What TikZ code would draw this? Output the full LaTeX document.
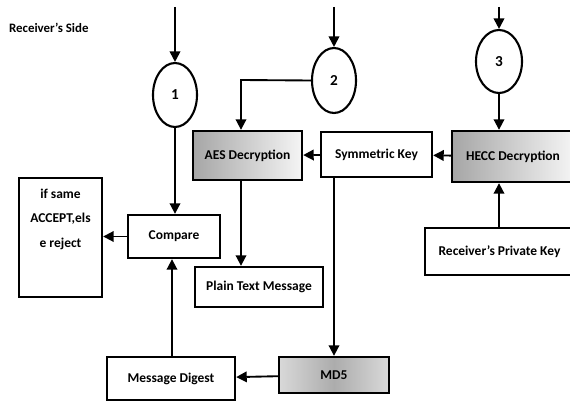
\documentclass[tikz,border=0pt]{standalone}
\usepackage{fontspec}
\setmainfont{Carlito}
\usetikzlibrary{shapes.geometric,arrows.meta}

\begin{document}
\begin{tikzpicture}[x=0.03cm,y=-0.03cm,
	caixa/.style = {draw,line width=2pt,fill=white,font=\bfseries\fontsize{11.5}{14}\selectfont,inner sep=2pt},
	sombra/.style = {caixa,left color=gray!70,right color=gray!8},
	circulo/.style = {draw,ellipse,line width=1.8pt,fill=white,font=\bfseries\fontsize{13}{14}\selectfont,inner sep=0pt},
	seta/.style = {line width=1.6pt,-{Triangle[length=9pt,width=9pt]}}]
	\useasboundingbox (0,0) rectangle (570,401);

	\node[font=\bfseries\fontsize{11}{13}\selectfont,anchor=west] (titulo) at (5,28) {Receiver’s Side};

	\node[circulo,minimum width=1.32cm,minimum height=1.92cm] (C1) at (175,95) {1};
	\node[circulo,minimum width=1.32cm,minimum height=1.95cm] (C2) at (334,80.5) {2};
	\node[circulo,minimum width=1.38cm,minimum height=1.89cm] (C3) at (499,61.5) {3};
	\coordinate (e1) at (175,7);
	\coordinate (e2) at (334,7);
	\coordinate (e3) at (499,7);
	\coordinate (dobra) at (241,80);

	\node[sombra,minimum width=3.27cm,minimum height=1.47cm] (AES) at (247.5,155.5) {AES Decryption};
	\node[caixa,minimum width=3.33cm,minimum height=1.35cm] (SK) at (376.5,154.5) {Symmetric Key};
	\node[sombra,minimum width=3.66cm,minimum height=1.53cm] (HECC) at (513,156.5) {HECC Decryption};
	\node[caixa,minimum width=4.47cm,minimum height=1.41cm] (RPK) at (499.5,251.5) {Receiver’s Private Key};
	\node[caixa,minimum width=2.76cm,minimum height=1.29cm] (CMP) at (174,236.5) {Compare};
	\node[caixa,minimum width=2.49cm,text depth=1.18cm,align=center,anchor=north,inner xsep=6pt,inner ysep=9pt,font=\bfseries\fontsize{11.5}{21}\selectfont] (IF) at (60.5,177) {if same\\ACCEPT,els\\e reject};
	\node[caixa,minimum width=3.84cm,minimum height=1.2cm] (PTM) at (259,287) {Plain Text Message};
	\node[caixa,minimum width=3.84cm,minimum height=1.29cm] (MDG) at (171,378.5) {Message Digest};
	\node[caixa,left color=gray!30,right color=gray!30,middle color=gray!65,minimum width=3.3cm,minimum height=1.08cm] (MD5) at (334,375) {MD5};

	\draw[seta] (e1) -- (C1);
	\draw[seta] (e2) -- (C2);
	\draw[seta] (e3) -- (C3);
	\draw[seta] (C2.west) -- (dobra) -- (AES.north -| dobra);
	\draw[seta] (C3) -- (HECC.north -| C3);
	\draw[seta] (HECC) -- (SK);
	\draw[seta] (SK) -- (AES);
	\draw[seta] (RPK.north -| C3) -- (HECC.south -| C3);
	\draw[seta] (C1) -- (CMP.north -| C1);
	\draw[seta] (CMP) -- (IF.east |- CMP);
	\draw[seta] (AES.south -| dobra) -- (PTM.north -| dobra);
	\draw[seta] (SK.south -| C2) -- (MD5.north -| C2);
	\draw[seta] (MD5) -- (MDG);
	\draw[seta] (MDG.north -| 172,0) -- (CMP.south -| 172,0);
\end{tikzpicture}
\end{document}
